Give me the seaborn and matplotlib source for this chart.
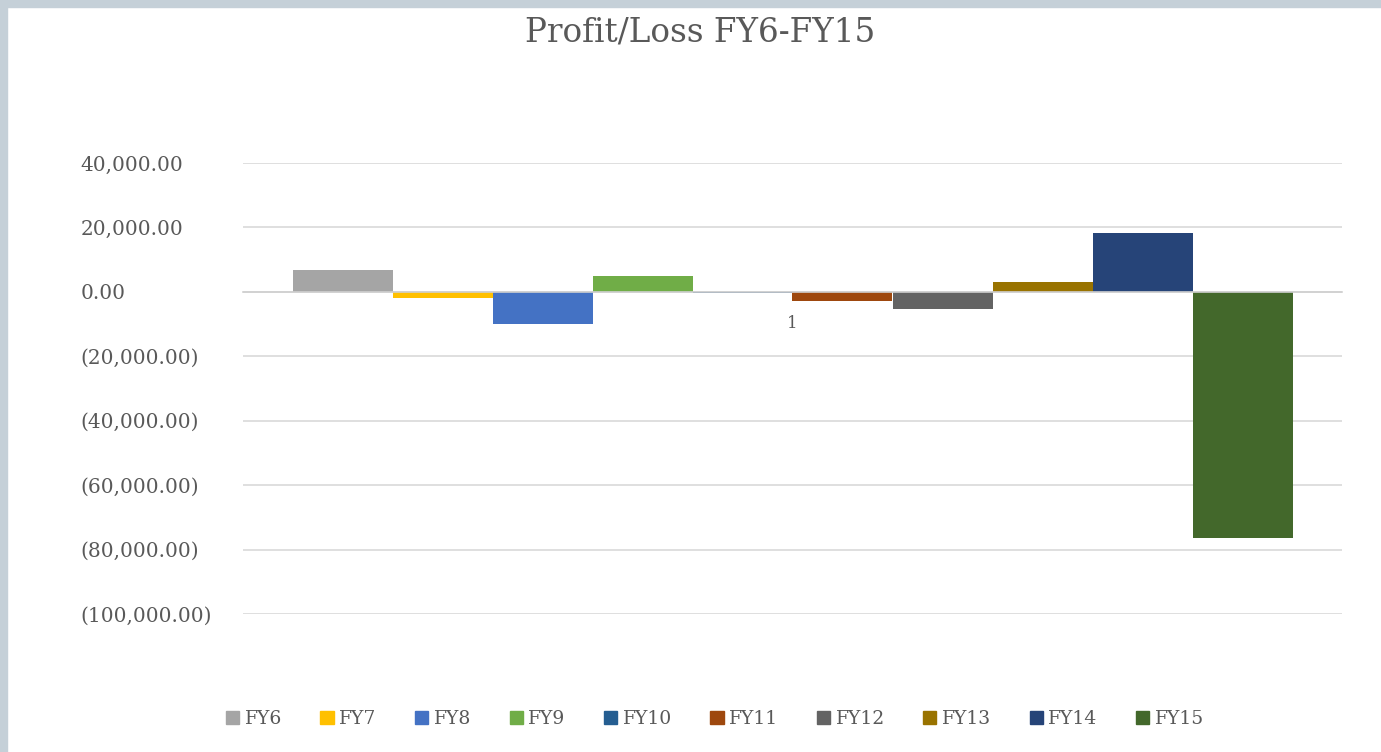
import matplotlib
matplotlib.use("Agg")
import matplotlib.pyplot as plt
import matplotlib.patches as mpatches
import pandas as pd
import seaborn as sns

# data
years = ["FY6", "FY7", "FY8", "FY9", "FY10", "FY11", "FY12", "FY13", "FY14", "FY15"]
profit = [6800, -1900, -9900, 5000, -500, -2900, -5200, 3200, 18400, -76300]
category = ["1"] * len(years)
colors = ["#A5A5A5", "#FFC000", "#4472C4", "#70AD47", "#255E91",
          "#9E480E", "#636363", "#997300", "#264478", "#43682B"]
yticks = [40000, 20000, 0, -20000, -40000, -60000, -80000, -100000]

df = pd.DataFrame({"cat": category, "year": years, "value": profit})

sns.set_theme(style="white")
plt.rcParams["font.family"] = ["DejaVu Serif"]
text_col = "#595959"

fig = plt.figure(figsize=(13.81, 7.52), dpi=100, facecolor="white")
# light frame at the top and left edge
fig.patches.append(mpatches.Rectangle((0, 0), 7 / 1381, 1, transform=fig.transFigure,
                                      color="#C5D0D8", zorder=-5))
fig.patches.append(mpatches.Rectangle((0, 1 - 7 / 752), 1, 7 / 752, transform=fig.transFigure,
                                      color="#C5D0D8", zorder=-5))

ax = fig.add_axes([243 / 1381, 1 - 614 / 752, 1099 / 1381, 451 / 752])
sns.barplot(data=df, x="cat", y="value", hue="year", palette=colors,
            width=1000 / 1099, saturation=1, linewidth=0, ax=ax, legend=False)
ax.set_xlim(-0.5, 0.5)
ax.set_ylim(-100000, 40000)
ax.set_yticks(yticks)
ax.set_yticklabels([f"{v:,.2f}" if v >= 0 else f"({-v:,.2f})" for v in yticks])
ax.yaxis.grid(True, color="#D9D9D9", linewidth=1.2)
ax.set_axisbelow(True)
for s in ["top", "right", "left"]:
    ax.spines[s].set_visible(False)
ax.spines["bottom"].set_position(("data", 0))
ax.spines["bottom"].set_color("#D0D0D0")
ax.spines["bottom"].set_linewidth(1.2)
ax.set_xlabel("")
ax.set_ylabel("")
ax.tick_params(axis="y", length=0, pad=117, labelsize=14.5, labelcolor=text_col)
ax.tick_params(axis="x", length=0, pad=17, labelsize=12, labelcolor=text_col)
for lab in ax.get_yticklabels():
    lab.set_horizontalalignment("left")

fig.text(700 / 1381, 1 - 33 / 752, "Profit/Loss FY6-FY15", ha="center", va="center",
         fontsize=23.5, color=text_col)

handles = [mpatches.Patch(color=c, label=y) for y, c in zip(years, colors)]
fig.legend(handles=handles, loc="center", bbox_to_anchor=(715 / 1381, 1 - 719 / 752),
           ncol=10, frameon=False, fontsize=13.5, labelcolor=text_col,
           handlelength=0.7, handleheight=0.7, handletextpad=0.3, columnspacing=2.05)

fig.savefig("out.png", dpi=100, facecolor="white")
